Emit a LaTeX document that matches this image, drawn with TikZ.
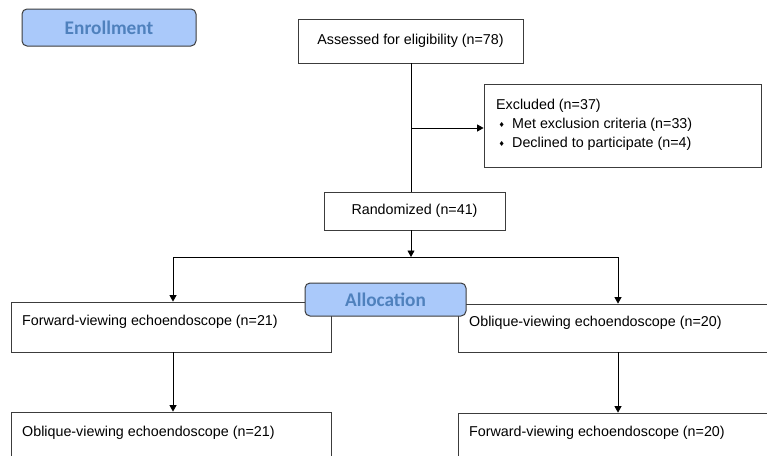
\documentclass[tikz,border=0pt]{standalone}
\usepackage{fontspec}
\setmainfont{Liberation Sans}
\newfontfamily\labelfont{Carlito}
\newfontfamily\dejavu{DejaVu Sans}
\usetikzlibrary{arrows.meta}
\definecolor{phasefill}{RGB}{170,201,250}
\definecolor{phasetext}{RGB}{79,129,189}
\definecolor{phaseline}{RGB}{60,60,60}
\definecolor{boxline}{RGB}{60,60,60}
\newcommand{\bul}{\makebox[16pt][l]{\hspace{2.5pt}\raisebox{1pt}{\dejavu\fontsize{7}{7}\selectfont ♦}}}
\begin{document}
\begin{tikzpicture}[x=1pt,y=-1pt,
  box/.style={draw=boxline, line width=0.8pt, fill=white, inner sep=0pt},
  txt/.style={inner sep=0pt, font=\fontsize{14.3}{19}\selectfont},
  phase/.style={draw=phaseline, line width=1pt, fill=phasefill, rounded corners=5pt, inner sep=0pt,
    font=\labelfont\bfseries\fontsize{19.3}{20}\selectfont, text=phasetext},
  conn/.style={line width=0.8pt, draw=black},
  arr/.style={conn, -{Triangle[length=6.5pt,width=7pt]}}]
\useasboundingbox (0,0) rectangle (767,455);
\clip (0,0) rectangle (767,455);

% phase labels
\node[phase, minimum width=174pt, minimum height=37pt] (enroll) at (109,27.5) {Enrollment};

% boxes
\node[box, minimum width=225pt, minimum height=44pt, txt] (assess) at (410.5,41) {Assessed for eligibility (n=78)};
\node[box, minimum width=277pt, minimum height=83pt] (excl) at (622.5,125.5) {};
\node[txt, anchor=north west, align=left] (excltxt) at (496,98.5)
  {Excluded (n=37)\\\bul Met exclusion criteria (n=33)\\\bul Declined to participate (n=4)};
\node[box, minimum width=181pt, minimum height=38pt, txt] (rand) at (414.5,211) {Randomized (n=41)};

\node[box, minimum width=320pt, minimum height=50pt] (fwd1) at (171,327) {};
\node[txt, anchor=west] (fwd1txt) at (22,322) {Forward-viewing echoendoscope (n=21)};
\node[box, minimum width=320pt, minimum height=60pt] (obl2) at (171,442) {};
\node[txt, anchor=west] (obl2txt) at (22,433) {Oblique-viewing echoendoscope (n=21)};

\node[box, minimum width=317pt, minimum height=48pt] (obl1) at (616.5,328) {};
\node[txt, anchor=west] (obl1txt) at (469,323) {Oblique-viewing echoendoscope (n=20)};
\node[box, minimum width=317pt, minimum height=60pt] (fwd2) at (616.5,443) {};
\node[txt, anchor=west] (fwd2txt) at (469,433) {Forward-viewing echoendoscope (n=20)};

% connectors
\coordinate (split) at (411,257);
\coordinate (lsplit) at (173,257);
\coordinate (rsplit) at (618,257);
\coordinate (exclbranch) at (411,128);
\draw[conn] (assess.south -| split) -- (rand.north -| split);
\draw[arr] (exclbranch) -- (exclbranch -| excl.west);
\draw[arr] (rand.south -| split) -- (split);
\draw[conn] (lsplit) -- (rsplit);
\draw[arr] (lsplit) -- (lsplit |- fwd1.north);
\draw[arr] (rsplit) -- (rsplit |- obl1.north);
\draw[arr] (fwd1.south -| lsplit) -- (lsplit |- obl2.north);
\draw[arr] (obl1.south -| rsplit) -- (rsplit |- fwd2.north);

\node[phase, minimum width=161pt, minimum height=33pt] (alloc) at (385.5,299.5) {Allocation};
\end{tikzpicture}
\end{document}
